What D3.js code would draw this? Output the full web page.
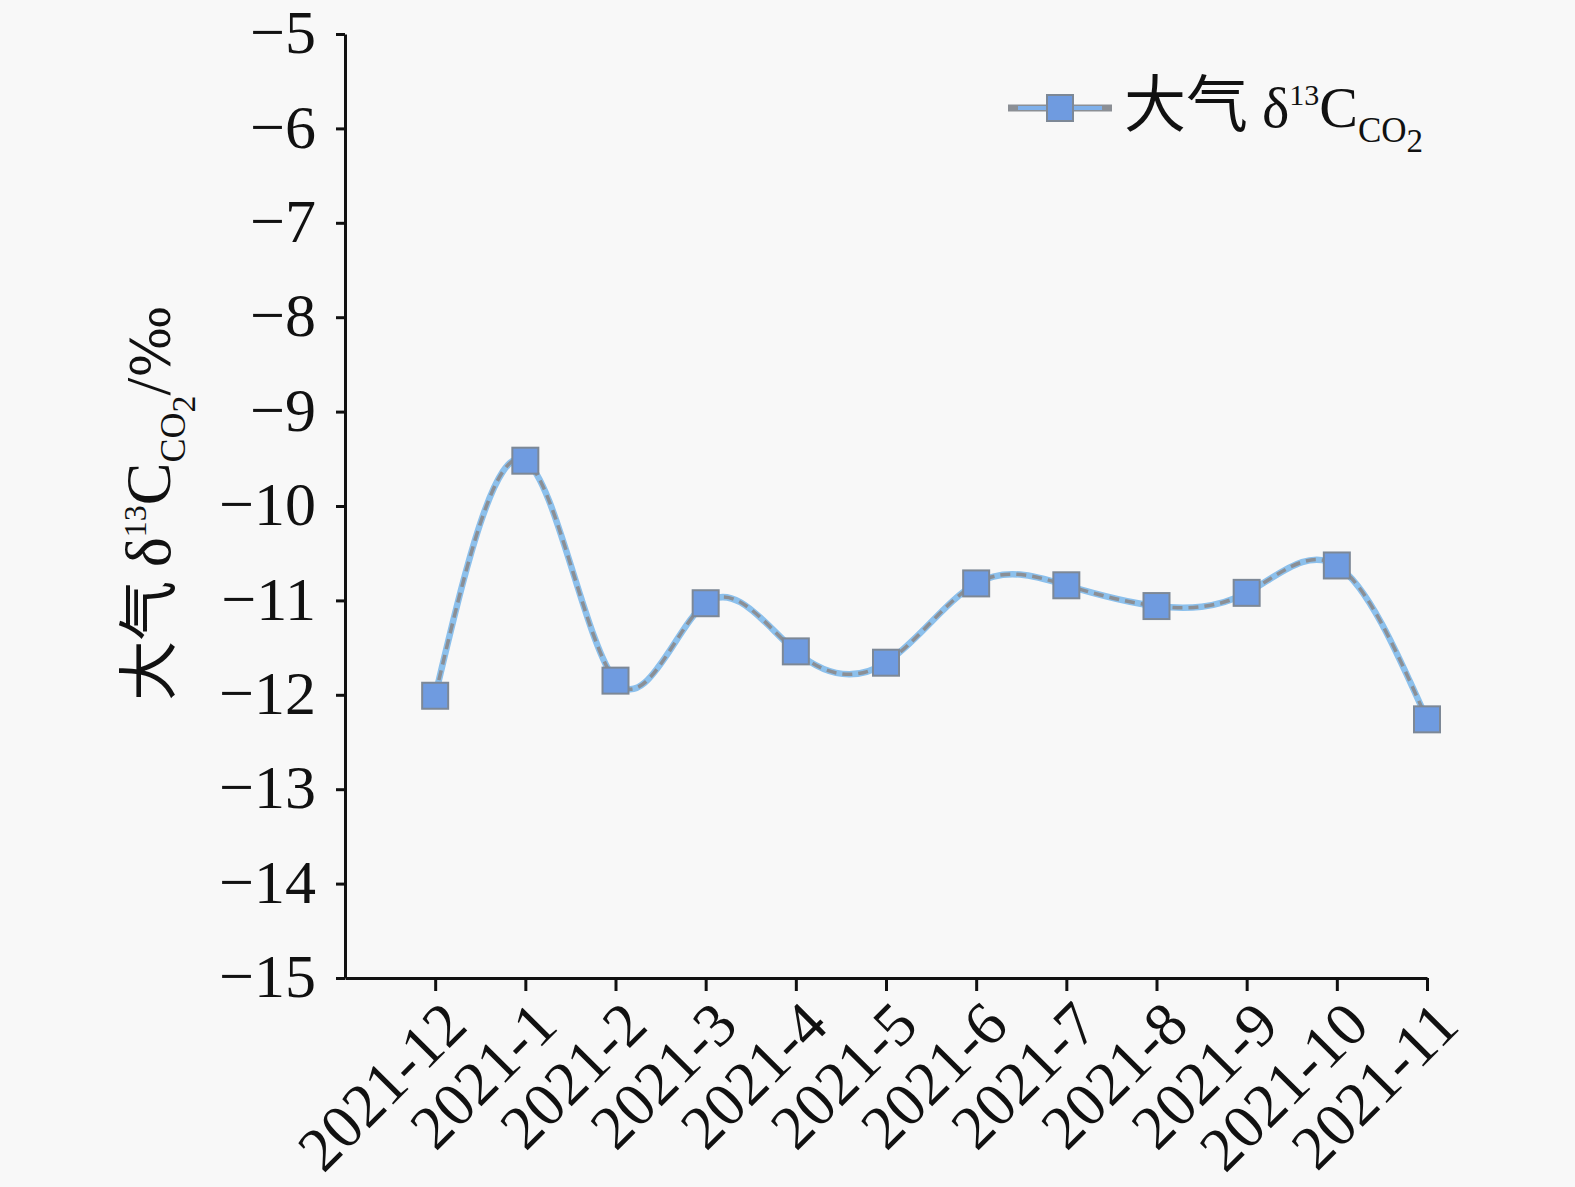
<!DOCTYPE html>
<html>
<head>
<meta charset="utf-8">
<script src="https://cdn.jsdelivr.net/npm/d3@7"></script>
<style>
  body { margin: 0; background: #f8f8f8; }
  svg { display: block; }
</style>
</head>
<body>
<div id="chart"></div>
<script>
// months shown on the x axis
var months = ["2021-12", "2021-1", "2021-2", "2021-3", "2021-4", "2021-5",
              "2021-6", "2021-7", "2021-8", "2021-9", "2021-10", "2021-11"];
// atmospheric d13C of CO2, per mil
var d13C = [-12.01, -9.52, -11.85, -11.03, -11.54, -11.66,
            -10.82, -10.84, -11.06, -10.92, -10.63, -12.26];
var yTicks = [-15, -14, -13, -12, -11, -10, -9, -8, -7, -6, -5];

var W = 1575, H = 1187;
var mLeft = 345, mRight = 1427, mTop = 34, mBottom = 978;

var svg = d3.select("#chart")
  .append("svg")
  .attr("width", W)
  .attr("height", H)
  .style("background", "#f8f8f8");

var x = d3.scaleLinear().domain([-1, months.length - 1]).range([mLeft, mRight]);
var y = d3.scaleLinear().domain([-15, -5]).range([mBottom, mTop]);

var serif = "'Liberation Serif', 'Times New Roman', serif";
var cjk = "'Noto Sans CJK SC', sans-serif";

// y axis
var yAxis = svg.append("g")
  .attr("transform", "translate(" + mLeft + ",0)")
  .call(d3.axisLeft(y).tickValues(yTicks).tickSize(9).tickSizeOuter(0).tickPadding(20));
yAxis.select(".domain").attr("stroke", "#111").attr("stroke-width", 3);
yAxis.selectAll(".tick line").attr("stroke", "#111").attr("stroke-width", 3);
yAxis.selectAll(".tick text")
  .style("font-family", serif)
  .style("font-size", "62px")
  .attr("fill", "#111")
  .attr("dy", "0.3em");

// x axis
var xAxis = svg.append("g")
  .attr("transform", "translate(0," + mBottom + ")")
  .call(d3.axisBottom(x).tickValues(d3.range(months.length)).tickSize(13).tickSizeOuter(0)
    .tickFormat(function(i) { return months[i]; }));
xAxis.select(".domain").attr("stroke", "#111").attr("stroke-width", 3);
xAxis.selectAll(".tick line").attr("stroke", "#111").attr("stroke-width", 3);
xAxis.selectAll(".tick text")
  .style("font-family", serif)
  .style("font-size", "62px")
  .attr("fill", "#111")
  .attr("text-anchor", "end")
  .attr("x", 0).attr("y", 0).attr("dy", 0)
  .attr("transform", "translate(34,50) rotate(-45)");

// y title
var yt = svg.append("text")
  .attr("transform", "translate(170,503) rotate(-90)")
  .attr("text-anchor", "middle")
  .style("font-family", serif)
  .style("font-size", "64px")
  .attr("fill", "#111");
yt.append("tspan").style("font-family", cjk).style("font-size", "60px").text("大气 ");
yt.append("tspan").text("δ");
yt.append("tspan").style("font-size", "32px").attr("dy", -24).text("13");
yt.append("tspan").attr("dy", 24).text("C");
yt.append("tspan").style("font-size", "36px").attr("dy", 15).text("CO");
yt.append("tspan").style("font-size", "34px").attr("dy", 10).text("2");
yt.append("tspan").attr("dy", -25).text("/");
yt.append("tspan").style("font-family", "'DejaVu Serif', serif").style("font-size", "54px")
  .style("font-weight", "normal").text("‰");

// data line
var line = d3.line()
  .x(function(d, i) { return x(i); })
  .y(function(d) { return y(d); })
  .curve(d3.curveNatural);

svg.append("path")
  .datum(d13C)
  .attr("d", line)
  .attr("fill", "none")
  .attr("stroke", "#8cc0ec")
  .attr("stroke-width", 6.5);
svg.append("path")
  .datum(d13C)
  .attr("d", line)
  .attr("fill", "none")
  .attr("stroke", "#8b8f95")
  .attr("stroke-width", 3.5)
  .attr("stroke-dasharray", "10,6");

var ms = 26;
svg.selectAll(".marker")
  .data(d13C)
  .enter()
  .append("rect")
  .attr("class", "marker")
  .attr("x", function(d, i) { return x(i) - ms / 2; })
  .attr("y", function(d) { return y(d) - ms / 2; })
  .attr("width", ms)
  .attr("height", ms)
  .attr("fill", "#6f9be0")
  .attr("stroke", "#7d8896")
  .attr("stroke-width", 2);

// legend
var lg = svg.append("g").attr("transform", "translate(1008,108)");
lg.append("line").attr("x1", 0).attr("x2", 104).attr("y1", 0).attr("y2", 0)
  .attr("stroke", "#8b8f95").attr("stroke-width", 7);
lg.append("line").attr("x1", 10).attr("x2", 94).attr("y1", 0).attr("y2", 0)
  .attr("stroke", "#7fb0ea").attr("stroke-width", 4);
lg.append("rect").attr("x", 52 - ms / 2).attr("y", -ms / 2).attr("width", ms).attr("height", ms)
  .attr("fill", "#6f9be0").attr("stroke", "#7d8896").attr("stroke-width", 2);

var lt = svg.append("text")
  .attr("x", 1124)
  .attr("y", 127)
  .style("font-family", serif)
  .style("font-size", "58px")
  .attr("fill", "#111");
lt.append("tspan").style("font-family", cjk).style("font-size", "62px").text("大气 ");
lt.append("tspan").text("δ");
lt.append("tspan").style("font-size", "30px").attr("dy", -22).text("13");
lt.append("tspan").attr("dy", 22).text("C");
lt.append("tspan").style("font-size", "35px").attr("dy", 15).text("CO");
lt.append("tspan").style("font-size", "33px").attr("dy", 10).text("2");
</script>
</body>
</html>
